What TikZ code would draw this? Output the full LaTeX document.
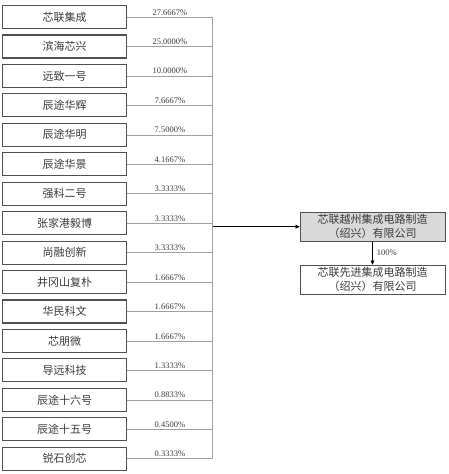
\documentclass[tikz,border=0pt]{standalone}
\usepackage{fontspec}
\setmainfont{Liberation Serif}
\newfontfamily\cjk{Noto Sans CJK SC}
\usetikzlibrary{arrows.meta}
\definecolor{boxline}{HTML}{505050}
\definecolor{busline}{HTML}{A0A0A0}
\definecolor{textgray}{HTML}{3A3A3A}
\definecolor{mainfill}{HTML}{D9D9D9}
\tikzset{
  holder/.style={draw=boxline,line width=1.1pt,minimum width=124pt,minimum height=23pt,
    inner sep=0pt,text=textgray,font=\cjk\fontsize{11}{13}\selectfont},
  link/.style={draw=busline,line width=0.6pt},
  pct/.style={midway,above,inner sep=1.5pt,text=textgray,font=\fontsize{8.5}{10}\selectfont},
  company/.style={draw=boxline,line width=0.9pt,minimum width=145pt,minimum height=29pt,
    inner sep=0pt,align=center,text=textgray,font=\cjk\fontsize{11}{14}\selectfont},
  feed/.style={draw=black,line width=0.7pt,-{Triangle[length=4pt,width=4pt]}}
}
\begin{document}
\begin{tikzpicture}[x=1pt,y=-1pt]
    \useasboundingbox (0,0) rectangle (449,474);
    \coordinate (bus) at (212.7,0);

    % Shareholders and their stakes
    \node[holder] (s1) at (64.7,17.0) {芯联集成};
    \draw[link] (s1.east) -- (s1.east -| bus) node[pct] {27.6667\%};
    \node[holder] (s2) at (64.7,46.45) {滨海芯兴};
    \draw[link] (s2.east) -- (s2.east -| bus) node[pct] {25.0000\%};
    \node[holder] (s3) at (64.7,75.9) {远致一号};
    \draw[link] (s3.east) -- (s3.east -| bus) node[pct] {10.0000\%};
    \node[holder] (s4) at (64.7,105.35) {辰途华辉};
    \draw[link] (s4.east) -- (s4.east -| bus) node[pct] {7.6667\%};
    \node[holder] (s5) at (64.7,134.8) {辰途华明};
    \draw[link] (s5.east) -- (s5.east -| bus) node[pct] {7.5000\%};
    \node[holder] (s6) at (64.7,164.25) {辰途华景};
    \draw[link] (s6.east) -- (s6.east -| bus) node[pct] {4.1667\%};
    \node[holder] (s7) at (64.7,193.7) {强科二号};
    \draw[link] (s7.east) -- (s7.east -| bus) node[pct] {3.3333\%};
    \node[holder] (s8) at (64.7,223.15) {张家港毅博};
    \draw[link] (s8.east) -- (s8.east -| bus) node[pct] {3.3333\%};
    \node[holder] (s9) at (64.7,252.6) {尚融创新};
    \draw[link] (s9.east) -- (s9.east -| bus) node[pct] {3.3333\%};
    \node[holder] (s10) at (64.7,282.05) {井冈山复朴};
    \draw[link] (s10.east) -- (s10.east -| bus) node[pct] {1.6667\%};
    \node[holder] (s11) at (64.7,311.5) {华民科文};
    \draw[link] (s11.east) -- (s11.east -| bus) node[pct] {1.6667\%};
    \node[holder] (s12) at (64.7,340.95) {芯朋微};
    \draw[link] (s12.east) -- (s12.east -| bus) node[pct] {1.6667\%};
    \node[holder] (s13) at (64.7,370.4) {导远科技};
    \draw[link] (s13.east) -- (s13.east -| bus) node[pct] {1.3333\%};
    \node[holder] (s14) at (64.7,399.85) {辰途十六号};
    \draw[link] (s14.east) -- (s14.east -| bus) node[pct] {0.8833\%};
    \node[holder] (s15) at (64.7,429.3) {辰途十五号};
    \draw[link] (s15.east) -- (s15.east -| bus) node[pct] {0.4500\%};
    \node[holder] (s16) at (64.7,458.75) {锐石创芯};
    \draw[link] (s16.east) -- (s16.east -| bus) node[pct] {0.3333\%};

    % Collecting bus
    \draw[link] (s1.east -| bus) -- (s16.east -| bus);

    % Target company and its subsidiary
    \node[company,fill=mainfill] (yuezhou) at (372.5,226.7) {芯联越州集成电路制造\\（绍兴）有限公司};
    \node[company] (xianjin) at (372.5,279.5) {芯联先进集成电路制造\\（绍兴）有限公司};
    \draw[feed] (bus |- yuezhou) -- (yuezhou.west);
    \draw[feed] (yuezhou) -- (xianjin) node[midway,right,inner sep=4pt,text=textgray,
      font=\fontsize{8.5}{10}\selectfont] {100\%};
\end{tikzpicture}
\end{document}
